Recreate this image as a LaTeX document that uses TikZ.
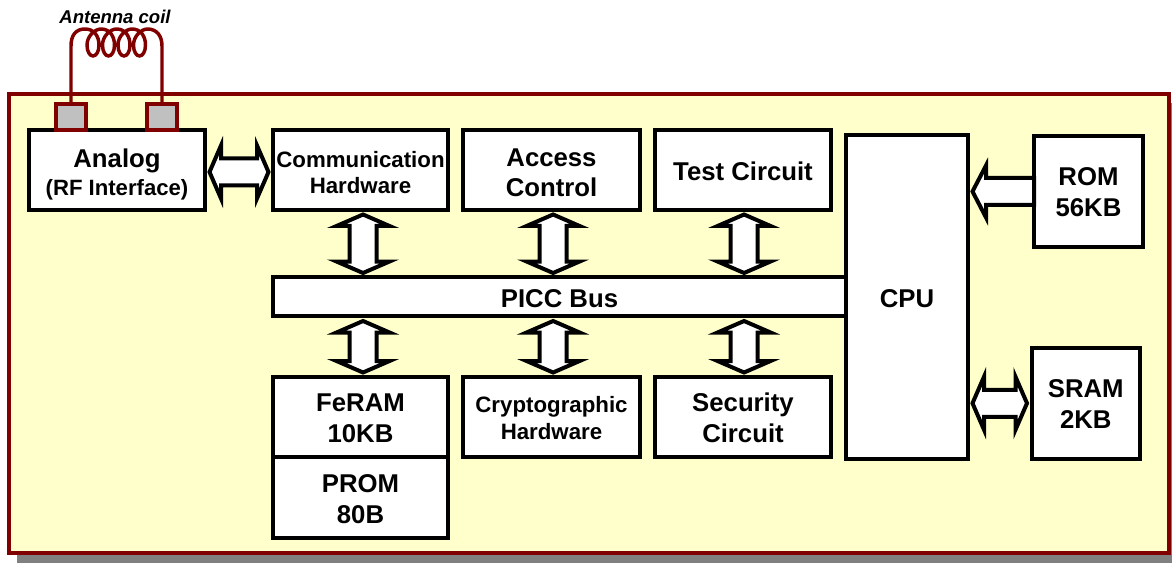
\documentclass[tikz,border=0pt]{standalone}
\usepackage{fontspec}
\setmainfont{Liberation Sans}
\usetikzlibrary{calc}
\definecolor{panelyellow}{HTML}{FFFFCC}
\definecolor{coilred}{HTML}{800000}
\definecolor{padgray}{HTML}{C0C0C0}
\definecolor{shadowgray}{HTML}{808080}
\newcommand{\bigfont}{\bfseries\fontsize{19.3}{23}\selectfont}
\newcommand{\midfont}{\bfseries\fontsize{16.7}{20}\selectfont}
\newcommand{\rffont}{\bfseries\fontsize{16.6}{19.5}\selectfont}
\tikzset{
    sized/.style 2 args={minimum width=#1*0.75pt,minimum height=#2*0.75pt},
    blockbox/.style={draw=black,fill=white,line width=3pt,inner sep=0pt,align=center,font=\bigfont},
    oneline/.style={blockbox,text height=15.5pt},
    twoline/.style={blockbox,text height=38.5pt},
    midbox/.style={blockbox,font=\midfont},
    padbox/.style={draw=coilred,fill=padgray,line width=3pt,inner sep=0pt,sized={30}{26}},
    panelbox/.style={draw=coilred,fill=panelyellow,line width=3pt,inner sep=0pt},
    coilwire/.style={draw=coilred,line width=2.6pt},
    busarrow/.style={draw=black,fill=white,line width=3pt,miter limit=10,
      to path={let \p1=(\tikztostart),\p2=(\tikztotarget),
        \n1={atan2(\y2-\y1,\x2-\x1)},\n2={scalar(veclen(\x2-\x1,\y2-\y1))/0.75} in
        ([shift={(\p1)},rotate=\n1]2.5,0) -- ([shift={(\p1)},rotate=\n1]14,26.5)
        -- ([shift={(\p1)},rotate=\n1]14,13.5) -- ([shift={(\p1)},rotate=\n1]\n2-14,13.5)
        -- ([shift={(\p1)},rotate=\n1]\n2-14,26.5) -- ([shift={(\p1)},rotate=\n1]\n2-2.5,0)
        -- ([shift={(\p1)},rotate=\n1]\n2-14,-26.5) -- ([shift={(\p1)},rotate=\n1]\n2-14,-13.5)
        -- ([shift={(\p1)},rotate=\n1]14,-13.5) -- ([shift={(\p1)},rotate=\n1]14,-26.5) -- cycle}},
    feedarrow/.style={draw=black,fill=white,line width=3pt,miter limit=10,
      to path={let \p1=(\tikztostart),\p2=(\tikztotarget),
        \n1={atan2(\y2-\y1,\x2-\x1)},\n2={scalar(veclen(\x2-\x1,\y2-\y1))/0.75} in
        ([shift={(\p1)},rotate=\n1]-2,13.5) -- ([shift={(\p1)},rotate=\n1]\n2-16,13.5)
        -- ([shift={(\p1)},rotate=\n1]\n2-16,26) -- ([shift={(\p1)},rotate=\n1]\n2-2.5,0)
        -- ([shift={(\p1)},rotate=\n1]\n2-16,-26) -- ([shift={(\p1)},rotate=\n1]\n2-16,-13.5)
        -- ([shift={(\p1)},rotate=\n1]-2,-13.5) -- cycle}},
  }
\begin{document}
\begin{tikzpicture}[x=0.75pt,y=-0.75pt]
	\useasboundingbox (0,0) rectangle (1172,563);
	%shadow and panel
	\fill[shadowgray] (17,103) rectangle (1172,563);
	\node[panelbox,sized={1160.5}{459}] (panel) at (588.75,323.5) {};

	%left column
	\node[blockbox,sized={176}{80},text height=42pt] (analog) at (117,170) {Analog\\[-1.5pt]{\rffont (RF Interface)}};
	\node[padbox] (padl) at (71,117) {};
	\node[padbox] (padr) at (162,117) {};

	%top row
	\node[midbox,sized={175}{80},text height=36pt] (comm) at (360.5,170) {Communication\\[-0.5pt]Hardware};
	\node[blockbox,sized={177}{80},text height=39.5pt] (access) at (551.5,170) {Access\\[-0.5pt]Control};
	\node[oneline,sized={176}{80}] (test) at (743,170) {Test Circuit};

	%bus
	\node[oneline,sized={573}{39}] (bus) at (559.5,297) {PICC Bus};

	%bottom row
	\node[twoline,sized={175}{80}] (feram) at (360.5,417) {FeRAM\\10KB};
	\node[twoline,sized={175}{81}] (prom) at (360.5,497.5) {PROM\\80B};
	\node[midbox,sized={177}{80},text height=33.5pt] (crypto) at (551.5,417) {Cryptographic\\Hardware};
	\node[twoline,sized={176}{80}] (security) at (743,417) {Security\\Circuit};

	%right column
	\node[oneline,sized={122}{324}] (cpu) at (907,297) {CPU};
	\node[twoline,sized={109}{111},text height=37.5pt] (rom) at (1088.5,191.5) {ROM\\56KB};
	\node[twoline,sized={108.5}{111.5},text height=37.5pt] (sram) at (1085.75,403.25) {SRAM\\2KB};

	%coil
	\node[font=\bfseries\itshape\fontsize{13.9}{16}\selectfont] (coillabel) at (115,17) {Antenna coil};
	\draw[coilwire] (padl.north) -- (71,46) .. controls (71,35) and (76,29) .. (85,29)
		\foreach \cx in {93,108.5,124,139.5}{
		.. controls (\cx+1,29) and (\cx+6,36) .. (\cx+6,45)
		.. controls (\cx+6,52) and (\cx+3,56) .. (\cx,56)
		.. controls (\cx-3,56) and (\cx-6,52) .. (\cx-6,45)
		.. controls (\cx-6,36) and (\cx+2,29) .. (\cx+8,29)}
		.. controls (156,29) and (162,35) .. (162,46) -- (padr.north);

	%arrows
	\draw[busarrow] ([yshift=-1.5pt]analog.east) to ([yshift=-1.5pt]analog.east -| comm.west);
	\draw[busarrow] ([xshift=1.9pt]comm.south) to ([xshift=1.9pt]bus.north -| comm.south);
	\draw[busarrow] ([xshift=1.2pt]access.south) to ([xshift=1.2pt]bus.north -| access.south);
	\draw[busarrow] ([xshift=0.8pt]test.south) to ([xshift=0.8pt]bus.north -| test.south);
	\draw[busarrow] ([xshift=1.9pt]bus.south -| feram.north) to ([xshift=1.9pt]feram.north);
	\draw[busarrow] ([xshift=1.2pt]bus.south -| crypto.north) to ([xshift=1.2pt]crypto.north);
	\draw[busarrow] ([xshift=0.8pt]bus.south -| security.north) to ([xshift=0.8pt]security.north);
	\draw[feedarrow] (rom.west) to (rom.west -| cpu.east);
	\draw[busarrow] (sram.west) to (sram.west -| cpu.east);
\end{tikzpicture}
\end{document}
